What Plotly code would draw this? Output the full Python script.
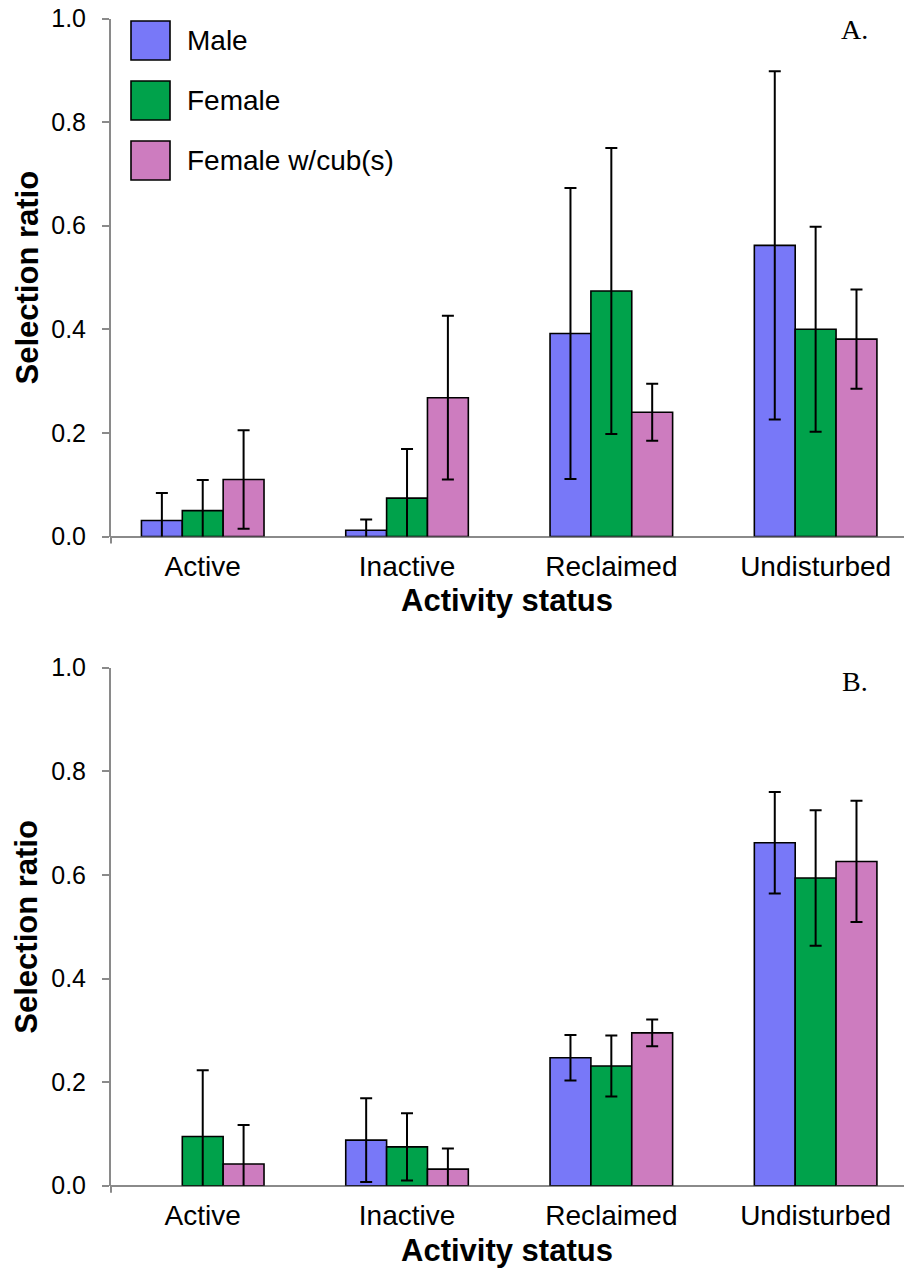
import plotly.graph_objects as go

W, H = 904, 1268
ML = 111
PW = W - ML

categories = ["Active", "Inactive", "Reclaimed", "Undisturbed"]
series_names = ["Male", "Female", "Female w/cub(s)"]
colors = ["#7878F8", "#00A24B", "#CD7CBF"]

# Panel A
a_male = [0.031, 0.012, 0.392, 0.562]
a_male_err = [0.053, 0.021, 0.281, 0.336]
a_female = [0.050, 0.074, 0.474, 0.400]
a_female_err = [0.059, 0.095, 0.276, 0.198]
a_cub = [0.110, 0.268, 0.240, 0.381]
a_cub_err = [0.095, 0.158, 0.055, 0.096]

# Panel B
b_male = [None, 0.088, 0.247, 0.662]
b_male_err = [None, 0.081, 0.044, 0.098]
b_female = [0.095, 0.075, 0.231, 0.594]
b_female_err = [0.128, 0.065, 0.059, 0.131]
b_cub = [0.042, 0.032, 0.295, 0.626]
b_cub_err = [0.075, 0.040, 0.026, 0.117]

y_tickvals = [0.0, 0.2, 0.4, 0.6, 0.8, 1.0]
y_ticktext = ["0.0", "0.2", "0.4", "0.6", "0.8", "1.0"]
panel_labels = ["A.", "B."]
y_title = "Selection ratio"
x_title = "Activity status"

FONT = "Liberation Sans, Arial, sans-serif"
SERIF = "Liberation Serif, Times New Roman, serif"
AXIS_GRAY = "#8A8A8A"


def px_x(p):
    return (p - ML) / PW


def px_y(p):
    return 1 - p / H


# pixel geometry for each panel: (top of 1.0, position of 0.0)
panels = [(18.5, 536.5), (667.7, 1185.7)]

fig = go.Figure()

panel_data = [
    [(a_male, a_male_err), (a_female, a_female_err), (a_cub, a_cub_err)],
    [(b_male, b_male_err), (b_female, b_female_err), (b_cub, b_cub_err)],
]

x_idx = list(range(len(categories)))

for p, series in enumerate(panel_data):
    xa = "x" if p == 0 else "x2"
    ya = "y" if p == 0 else "y2"
    for s, (vals, errs) in enumerate(series):
        fig.add_trace(go.Bar(
            x=x_idx, y=vals, name=series_names[s],
            marker=dict(color=colors[s], line=dict(color="black", width=1.6)),
            error_y=dict(type="data", array=errs, visible=True,
                         color="black", thickness=2, width=6),
            xaxis=xa, yaxis=ya, showlegend=False,
        ))

x_range = [-0.449, -0.449 + PW / 204.3]

common_x = dict(
    range=x_range, tickvals=x_idx, ticktext=categories, showline=False,
    showgrid=False, zeroline=False, ticks="", ticklabelstandoff=10,
    automargin=False,
    tickfont=dict(family=FONT, size=28, color="black"),
)
common_y = dict(
    range=[0, 1], tickvals=y_tickvals, ticktext=y_ticktext, showgrid=False,
    showline=True, linecolor=AXIS_GRAY, linewidth=2, ticks="outside",
    ticklen=7, tickwidth=1.5, tickcolor=AXIS_GRAY, zeroline=True,
    zerolinecolor=AXIS_GRAY, zerolinewidth=2, ticklabelstandoff=11,
    automargin=False,
    tickfont=dict(family=FONT, size=25, color="black"),
)

(topA, zeroA), (topB, zeroB) = panels
fig.update_layout(
    width=W, height=H,
    margin=dict(l=ML, r=0, t=0, b=0, pad=0),
    paper_bgcolor="white", plot_bgcolor="white",
    barmode="group", bargap=0.4, bargroupgap=0,
    xaxis=dict(domain=[0, 1], anchor="y", **common_x),
    yaxis=dict(domain=[px_y(zeroA), px_y(topA)], anchor="x", **common_y),
    xaxis2=dict(domain=[0, 1], anchor="y2", **common_x),
    yaxis2=dict(domain=[px_y(zeroB), px_y(topB)], anchor="x2", **common_y),
)

shapes = []
annotations = []

# small extension of the y axis below the category axis
for top, zero in panels:
    shapes.append(dict(type="line", xref="paper", yref="paper",
                       x0=0, x1=0, y0=px_y(zero), y1=px_y(zero + 7),
                       line=dict(color=AXIS_GRAY, width=2)))

# legend (panel A)
sw_x0, sw_x1 = 131, 170
row_tops = [21, 81, 141]
for name, col, top in zip(series_names, colors, row_tops):
    shapes.append(dict(type="rect", xref="paper", yref="paper",
                       x0=px_x(sw_x0), x1=px_x(sw_x1),
                       y0=px_y(top + 39), y1=px_y(top),
                       fillcolor=col, line=dict(color="black", width=1.6)))
    annotations.append(dict(text=name, xref="paper", yref="paper",
                            x=px_x(185), y=px_y(top + 19.5),
                            xanchor="left", yanchor="middle", showarrow=False,
                            font=dict(family=FONT, size=28, color="black")))

# panel labels, axis titles
label_pos = [(854, 30), (855, 681)]
for (lx, ly), lab in zip(label_pos, panel_labels):
    annotations.append(dict(text=lab, xref="paper", yref="paper",
                            x=px_x(lx), y=px_y(ly), xanchor="center",
                            yanchor="middle", showarrow=False,
                            font=dict(family=SERIF, size=28, color="black")))

for (top, zero), xt_y in zip(panels, [601, 1250]):
    annotations.append(dict(text="<b>%s</b>" % x_title, xref="paper", yref="paper",
                            x=px_x(507), y=px_y(xt_y), xanchor="center",
                            yanchor="middle", showarrow=False,
                            font=dict(family=FONT, size=31, color="black")))
    annotations.append(dict(text="<b>%s</b>" % y_title, xref="paper", yref="paper",
                            x=px_x(27), y=px_y((top + zero) / 2), xanchor="center",
                            yanchor="middle", showarrow=False, textangle=-90,
                            font=dict(family=FONT, size=31, color="black")))

fig.update_layout(shapes=shapes, annotations=annotations)
fig.write_html("out.html")
